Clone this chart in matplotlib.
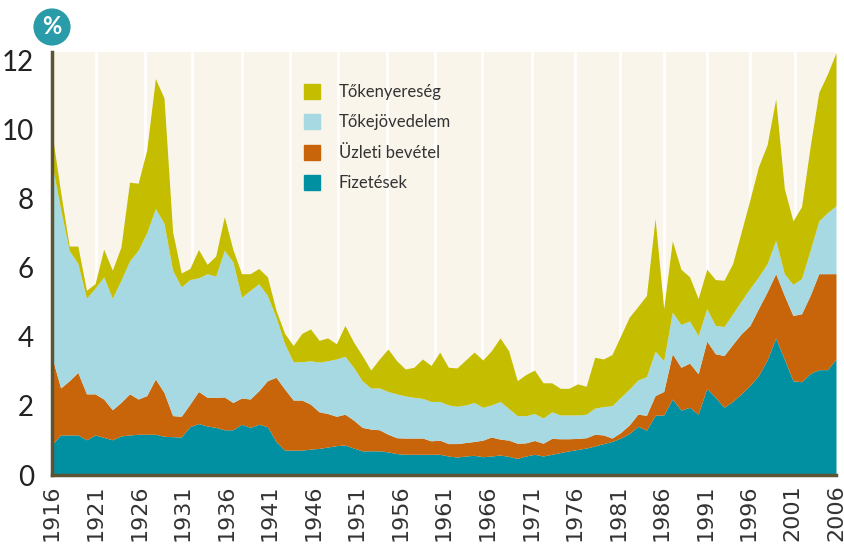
import numpy as np
import matplotlib.pyplot as plt
from matplotlib.patches import Patch

years = list(range(1916, 2008))

# top edge of each stacked band (cumulative share, %)
wages = [0.89, 1.16, 1.16, 1.16, 1.02, 1.16, 1.09, 1.02, 1.13, 1.16,
         1.18, 1.18, 1.18, 1.12, 1.11, 1.10, 1.40, 1.49, 1.42, 1.38,
         1.31, 1.31, 1.47, 1.38, 1.47, 1.40, 0.97, 0.72, 0.72, 0.72,
         0.75, 0.77, 0.81, 0.85, 0.87, 0.78, 0.70, 0.70, 0.70, 0.67,
         0.62, 0.60, 0.60, 0.60, 0.60, 0.60, 0.55, 0.52, 0.55, 0.57,
         0.53, 0.55, 0.58, 0.54, 0.48, 0.55, 0.60, 0.55, 0.60, 0.65,
         0.70, 0.74, 0.78, 0.84, 0.91, 0.97, 1.07, 1.20, 1.41, 1.30,
         1.73, 1.74, 2.20, 1.88, 1.96, 1.76, 2.51, 2.25, 1.96, 2.13,
         2.35, 2.59, 2.88, 3.33, 3.97, 3.36, 2.73, 2.70, 2.94, 3.05,
         3.05, 3.36]

business_top = [3.41, 2.52, 2.73, 2.97, 2.35, 2.35, 2.20, 1.89, 2.10, 2.35,
                2.20, 2.30, 2.78, 2.39, 1.72, 1.70, 2.05, 2.42, 2.25, 2.25,
                2.26, 2.10, 2.23, 2.20, 2.44, 2.73, 2.83, 2.49, 2.17, 2.17,
                2.05, 1.83, 1.78, 1.70, 1.76, 1.59, 1.38, 1.33, 1.31, 1.18,
                1.08, 1.07, 1.07, 1.07, 0.99, 1.01, 0.91, 0.91, 0.94, 0.97,
                1.01, 1.10, 1.04, 1.01, 0.92, 0.93, 1.00, 0.92, 1.06, 1.05,
                1.05, 1.06, 1.08, 1.18, 1.16, 1.07, 1.23, 1.45, 1.76, 1.73,
                2.30, 2.42, 3.51, 3.12, 3.24, 2.93, 3.88, 3.51, 3.46, 3.78,
                4.09, 4.33, 4.82, 5.30, 5.83, 5.20, 4.62, 4.67, 5.20, 5.83,
                5.83, 5.83]

capital_top = [9.00, 7.70, 6.50, 6.13, 5.12, 5.41, 5.74, 5.12, 5.64, 6.20,
               6.51, 7.02, 7.72, 7.29, 5.93, 5.45, 5.66, 5.71, 5.83, 5.76,
               6.51, 6.17, 5.15, 5.35, 5.54, 5.20, 4.57, 3.80, 3.28, 3.28,
               3.31, 3.27, 3.31, 3.36, 3.44, 3.12, 2.73, 2.52, 2.52, 2.42,
               2.35, 2.29, 2.25, 2.22, 2.13, 2.13, 2.03, 1.99, 2.03, 2.10,
               1.96, 2.03, 2.13, 1.93, 1.72, 1.72, 1.78, 1.65, 1.83, 1.74,
               1.74, 1.74, 1.76, 1.94, 1.98, 2.01, 2.25, 2.49, 2.75, 2.85,
               3.59, 3.31, 4.72, 4.36, 4.46, 4.04, 4.82, 4.33, 4.30, 4.67,
               5.04, 5.40, 5.74, 6.12, 6.80, 5.83, 5.52, 5.69, 6.51, 7.36,
               7.60, 7.80]

gains_top = [9.90, 8.20, 6.63, 6.63, 5.35, 5.54, 6.54, 5.93, 6.60, 8.48,
             8.45, 9.42, 11.48, 10.92, 7.04, 5.85, 5.98, 6.53, 6.10, 6.34,
             7.48, 6.53, 5.83, 5.83, 5.98, 5.74, 4.77, 4.10, 3.75, 4.10,
             4.23, 3.90, 3.97, 3.80, 4.33, 3.85, 3.46, 3.04, 3.36, 3.65,
             3.31, 3.07, 3.12, 3.36, 3.17, 3.56, 3.12, 3.10, 3.33, 3.56,
             3.33, 3.60, 3.97, 3.60, 2.73, 2.91, 3.04, 2.67, 2.67, 2.51,
             2.51, 2.64, 2.57, 3.41, 3.36, 3.49, 4.03, 4.57, 4.88, 5.20,
             7.43, 4.82, 6.78, 5.96, 5.74, 5.11, 5.96, 5.66, 5.64, 6.12,
             7.04, 7.97, 8.93, 9.56, 10.89, 8.30, 7.36, 7.77, 9.51, 11.08,
             11.61, 12.23]

labels = ["Tőkenyereség", "Tőkejövedelem", "Üzleti bevétel", "Fizetések"]
colors = ["#c4bd00", "#a6d9e2", "#c8640a", "#0090a2"]

tick_labels = [str(y) for y in range(1916, 2007, 5)]
grid_x = [1921.1, 1926.8, 1932.3, 1938.0, 1943.6, 1949.2, 1954.9, 1960.5,
          1965.9, 1971.7, 1976.7, 1981.9, 1987.0, 1992.0, 1997.0, 2002.2]

fig = plt.figure(figsize=(8.44, 5.52), dpi=100)
ax = fig.add_axes([52 / 844, 1 - 475 / 552, 784 / 844, 423 / 552])
ax.set_facecolor("#f9f5eb")

for gx in grid_x:
    ax.axvline(gx, color="white", lw=2, zorder=1)

ax.fill_between(years, 0, wages, color=colors[3], lw=0, zorder=2)
ax.fill_between(years, wages, business_top, color=colors[2], lw=0, zorder=2)
ax.fill_between(years, business_top, capital_top, color=colors[1], lw=0, zorder=2)
ax.fill_between(years, capital_top, gains_top, color=colors[0], lw=0, zorder=2)

ax.set_xlim(1916, 2007)
ax.set_ylim(0, 12.25)

ax.set_xticks([1916 + k * 91 / 18 for k in range(len(tick_labels))])
ax.set_xticklabels(tick_labels, rotation=90, fontsize=16,
                   family="DejaVu Sans", color="#333333")
ax.set_yticks([0, 2, 4, 6, 8, 10, 12])
ax.set_yticklabels(["0", "2", "4", "6", "8", "10", "12"], fontsize=20,
                   family="Lato", color="#222222")
ax.tick_params(axis="x", length=0, pad=7)
ax.tick_params(axis="y", length=0, pad=13)

for s in ["top", "right"]:
    ax.spines[s].set_visible(False)
for s in ["left", "bottom"]:
    ax.spines[s].set_color("#5c5434")
    ax.spines[s].set_linewidth(2.5)
    ax.spines[s].set_zorder(5)

handles = [Patch(color=c) for c in colors]
ax.legend(handles, labels, loc="upper left", bbox_to_anchor=(0.302, 0.96),
          frameon=False, prop={"family": "Lato", "size": 12},
          handlelength=1.0, handleheight=1.0, labelspacing=0.85,
          handletextpad=1.1, labelcolor="#333333")

fig.text(52 / 844, 1 - 27 / 552, "%", ha="center", va="center",
         color="white", fontsize=17, fontweight="bold", family="Lato",
         bbox=dict(boxstyle="circle,pad=0.3", fc="#2a9ba8", ec="none"))

fig.savefig("out.png", dpi=100)
